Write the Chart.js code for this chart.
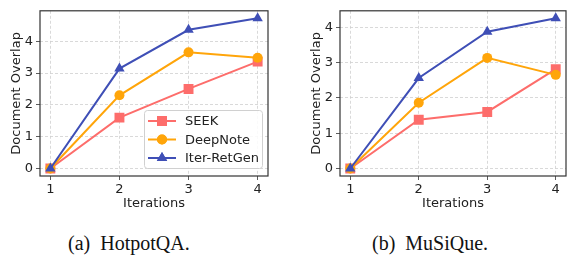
<!DOCTYPE html>
<html>
<head>
<meta charset="utf-8">
<script src="https://cdn.jsdelivr.net/npm/chart.js@4.4.0/dist/chart.umd.min.js"></script>
<style>
  body { margin: 0; background: #fff; width: 576px; height: 257px; position: relative; overflow: hidden; }
  .box { position: absolute; top: 0; height: 215px; }
  .cap { position: absolute; top: 233px; font: 20px "Liberation Serif", "Times New Roman", serif; line-height: 20px; color: #111; white-space: pre; }
</style>
</head>
<body>
<div class="box" style="left:0;width:288px"><canvas id="hotpot"></canvas></div>
<div class="box" style="left:300px;width:276px"><canvas id="musique"></canvas></div>
<div class="cap" style="left:68px">(a)  HotpotQA.</div>
<div class="cap" style="left:372px">(b)  MuSiQue.</div>
<script>
// iterations on the x axis
const iterations = [1, 2, 3, 4];
const yTicks = [0, 1, 2, 3, 4];

// HotpotQA
const hotpotSeek = [0, 1.6, 2.5, 3.36];
const hotpotDeepNote = [0, 2.3, 3.65, 3.48];
const hotpotIter = [0, 3.14, 4.36, 4.72];

// MuSiQue
const musiqueSeek = [0, 1.38, 1.6, 2.81];
const musiqueDeepNote = [0, 1.86, 3.13, 2.65];
const musiqueIter = [0, 2.56, 3.87, 4.25];

const seriesNames = ['SEEK', 'DeepNote', 'Iter-RetGen'];
const colors = ['#fd6d6b', '#ffa50a', '#3f4fb6'];
const markers = ['rect', 'circle', 'triangle'];
const markerSizes = [7, 5, 6];

const FONT = '"DejaVu Sans", sans-serif';

function pts(vals) {
  return vals.map((v, i) => ({ x: iterations[i], y: v }));
}

// frame around the plot area, like matplotlib spines
const framePlugin = {
  id: 'frame',
  afterDatasetsDraw(chart) {
    const a = chart.chartArea, ctx = chart.ctx;
    ctx.save();
    ctx.strokeStyle = '#333';
    ctx.lineWidth = 1.2;
    ctx.strokeRect(a.left, a.top, a.right - a.left, a.bottom - a.top);
    ctx.restore();
  }
};

// legend box in lower right corner
const boxLegend = {
  id: 'boxLegend',
  afterDraw(chart, args, opts) {
    if (!opts.show) return;
    const ctx = chart.ctx, a = chart.chartArea;
    const w = 118, h = 58;
    const x = a.right - 6 - w, y = a.bottom - 8 - h;
    ctx.save();
    ctx.fillStyle = 'rgba(255,255,255,0.85)';
    ctx.strokeStyle = '#d0d0d0';
    ctx.lineWidth = 1;
    ctx.beginPath();
    ctx.roundRect(x + 0.5, y + 0.5, w, h, 3);
    ctx.fill();
    ctx.stroke();
    ctx.font = '13px ' + FONT;
    ctx.textBaseline = 'middle';
    chart.data.datasets.forEach((ds, i) => {
      const ry = y + 11 + i * 18.5;
      ctx.strokeStyle = ds.borderColor;
      ctx.lineWidth = 2;
      ctx.beginPath();
      ctx.moveTo(x + 4, ry);
      ctx.lineTo(x + 32, ry);
      ctx.stroke();
      ctx.fillStyle = ds.borderColor;
      Chart.helpers.drawPoint(ctx, { pointStyle: ds.pointStyle, radius: ds.pointRadius, rotation: 0, borderWidth: 0 }, x + 18, ry);
      ctx.fill();
      ctx.fillStyle = '#222';
      ctx.fillText(ds.label, x + 41, ry + 1);
    });
    ctx.restore();
  }
};

function makeChart(id, series, padRight, showLegend) {
  const datasets = series.map((vals, i) => ({
    label: seriesNames[i],
    data: pts(vals),
    borderColor: colors[i],
    backgroundColor: colors[i],
    borderWidth: 2,
    pointStyle: markers[i],
    pointRadius: markerSizes[i],
    pointHoverRadius: markerSizes[i],
    pointBorderWidth: 0,
    order: series.length - i
  }));
  const maxV = Math.max(...series.flat());
  const margin = maxV * 0.05;
  return new Chart(document.getElementById(id), {
    type: 'line',
    data: { datasets },
    options: {
      responsive: true,
      maintainAspectRatio: false,
      animation: false,
      layout: { padding: { top: 5, right: padRight, bottom: 0, left: 0 } },
      plugins: {
        legend: { display: false },
        tooltip: { enabled: false },
        boxLegend: { show: showLegend }
      },
      scales: {
        x: {
          type: 'linear',
          min: 0.85,
          max: 4.15,
          afterBuildTicks: s => { s.ticks = iterations.map(v => ({ value: v })); },
          afterFit: s => { s.height = 39; },
          grid: { color: '#cfcfcf', lineWidth: 0.8, tickColor: '#333', tickLength: 4 },
          border: { display: false, dash: [3, 2] },
          ticks: { color: '#222', padding: 2, font: { family: FONT, size: 13 } },
          title: { display: true, text: 'Iterations', color: '#222', padding: { top: 0, bottom: 4 }, font: { family: FONT, size: 13 } }
        },
        y: {
          min: -margin,
          max: maxV + margin,
          afterBuildTicks: s => { s.ticks = yTicks.map(v => ({ value: v })); },
          afterFit: s => { s.width = 40; },
          grid: { color: '#cfcfcf', lineWidth: 0.8, tickColor: '#333', tickLength: 4 },
          border: { display: false, dash: [3, 2] },
          ticks: { color: '#222', padding: 3, font: { family: FONT, size: 13 } },
          title: { display: true, text: 'Document Overlap', color: '#222', padding: { top: 9, bottom: 0 }, font: { family: FONT, size: 13 } }
        }
      }
    },
    plugins: [framePlugin, boxLegend]
  });
}

makeChart('hotpot', [hotpotSeek, hotpotDeepNote, hotpotIter], 20, true);
makeChart('musique', [musiqueSeek, musiqueDeepNote, musiqueIter], 10, false);
</script>
</body>
</html>
